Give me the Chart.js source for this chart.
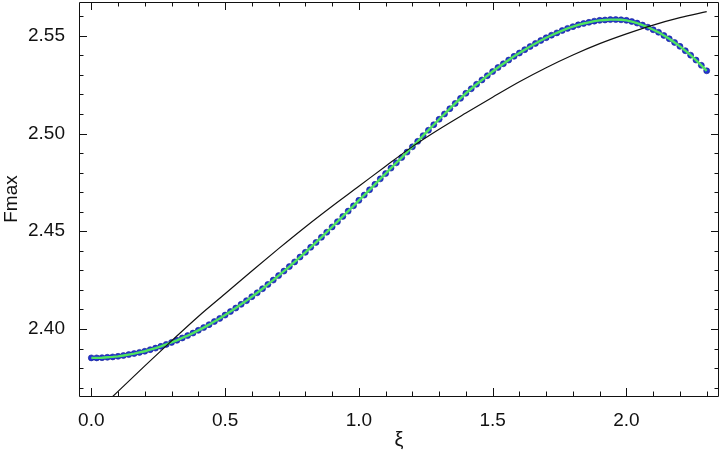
<!DOCTYPE html>
<html>
<head>
<meta charset="utf-8">
<script src="https://cdn.jsdelivr.net/npm/chart.js@4.4.1/dist/chart.umd.min.js"></script>
<style>
    html, body { margin: 0; padding: 0; background: #fff; }
    #wrap { width: 720px; height: 459px; }
</style>
</head>
<body>
<div id="wrap"><canvas id="fmaxChart"></canvas></div>
<script>
/* ================= DATA ================= */

const xiPoints = [
    0.00, 0.02, 0.04, 0.06, 0.08, 0.10, 0.12, 0.14, 0.16, 0.18,
    0.20, 0.22, 0.24, 0.26, 0.28, 0.30, 0.32, 0.34, 0.36, 0.38,
    0.40, 0.42, 0.44, 0.46, 0.48, 0.50, 0.52, 0.54, 0.56, 0.58,
    0.60, 0.62, 0.64, 0.66, 0.68, 0.70, 0.72, 0.74, 0.76, 0.78,
    0.80, 0.82, 0.84, 0.86, 0.88, 0.90, 0.92, 0.94, 0.96, 0.98,
    1.00, 1.02, 1.04, 1.06, 1.08, 1.10, 1.12, 1.14, 1.16, 1.18,
    1.20, 1.22, 1.24, 1.26, 1.28, 1.30, 1.32, 1.34, 1.36, 1.38,
    1.40, 1.42, 1.44, 1.46, 1.48, 1.50, 1.52, 1.54, 1.56, 1.58,
    1.60, 1.62, 1.64, 1.66, 1.68, 1.70, 1.72, 1.74, 1.76, 1.78,
    1.80, 1.82, 1.84, 1.86, 1.88, 1.90, 1.92, 1.94, 1.96, 1.98,
    2.00, 2.02, 2.04, 2.06, 2.08, 2.10, 2.12, 2.14, 2.16, 2.18,
    2.20, 2.22, 2.24, 2.26, 2.28, 2.30
];

const fmaxPoints = [
    2.3852, 2.3852, 2.3853, 2.3855, 2.3857, 2.3860, 2.3864, 2.3869, 2.3874, 2.3880,
    2.3886, 2.3894, 2.3902, 2.3911, 2.3921, 2.3931, 2.3942, 2.3954, 2.3966, 2.3979,
    2.3993, 2.4007, 2.4022, 2.4038, 2.4054, 2.4071, 2.4089, 2.4107, 2.4126, 2.4145,
    2.4165, 2.4185, 2.4206, 2.4228, 2.4250, 2.4273, 2.4296, 2.4319, 2.4343, 2.4368,
    2.4392, 2.4418, 2.4443, 2.4469, 2.4495, 2.4522, 2.4549, 2.4576, 2.4603, 2.4630,
    2.4658, 2.4685, 2.4712, 2.4740, 2.4768, 2.4795, 2.4823, 2.4850, 2.4877, 2.4905,
    2.4932, 2.4960, 2.4989, 2.5017, 2.5045, 2.5073, 2.5100, 2.5127, 2.5154, 2.5180,
    2.5206, 2.5229, 2.5252, 2.5274, 2.5296, 2.5317, 2.5338, 2.5357, 2.5376, 2.5395,
    2.5412, 2.5429, 2.5445, 2.5461, 2.5476, 2.5490, 2.5503, 2.5515, 2.5527, 2.5538,
    2.5547, 2.5556, 2.5563, 2.5569, 2.5575, 2.5579, 2.5581, 2.5583, 2.5583, 2.5582,
    2.5579, 2.5573, 2.5565, 2.5555, 2.5544, 2.5531, 2.5518, 2.5502, 2.5485, 2.5466,
    2.5446, 2.5424, 2.5401, 2.5376, 2.5349, 2.5321
];

// smooth fit curve (black)
const fitXi = [
    0.0, 0.1, 0.2, 0.3, 0.4, 0.5, 0.6, 0.7, 0.8, 0.9, 1.0, 1.1,
    1.2, 1.3, 1.4, 1.5, 1.6, 1.7, 1.8, 1.9, 2.0, 2.1, 2.2, 2.3
];
const fitFmax = [
    2.3549, 2.3681, 2.3811, 2.3939, 2.4064, 2.4180, 2.4297, 2.4411, 2.4522, 2.4628, 2.4730, 2.4833,
    2.4933, 2.5022, 2.5105, 2.5186, 2.5265, 2.5337, 2.5402, 2.5460, 2.5510, 2.5555, 2.5593, 2.5624
];

const xMajorTicks = [0.0, 0.5, 1.0, 1.5, 2.0];
const yMajorTicks = [2.40, 2.45, 2.50, 2.55];

/* ================= HELPERS ================= */

function toPoints(xs, ys) {
    return xs.map((x, i) => ({ x, y: ys[i] }));
}

function noPad(s) {
    s.paddingTop = 0;
    s.paddingBottom = 0;
    s.paddingLeft = 0;
    s.paddingRight = 0;
}

const FONT = "'Liberation Sans', Arial, sans-serif";

// Mathematica style frame with inward ticks on every side
const frameTicks = {
    id: "frameTicks",
    afterDraw(chart) {
        const { ctx, chartArea: a, scales: { x, y } } = chart;
        ctx.save();
        ctx.strokeStyle = "#111";
        ctx.lineWidth = 1;

        ctx.beginPath();
        ctx.moveTo(a.left + 0.5, a.top + 0.5);
        ctx.lineTo(a.right - 0.5, a.top + 0.5);
        ctx.lineTo(a.right - 0.5, a.bottom + 0.5);
        ctx.lineTo(a.left + 0.5, a.bottom + 0.5);
        ctx.closePath();

        for (let i = 0; i <= 23; i++) {
            const px = Math.round(x.getPixelForValue(i / 10)) + 0.5;
            const len = i % 5 === 0 ? 8 : 4.5;
            ctx.moveTo(px, a.bottom);
            ctx.lineTo(px, a.bottom - len);
            ctx.moveTo(px, a.top);
            ctx.lineTo(px, a.top + len);
        }
        for (let i = 237; i <= 256; i++) {
            const py = Math.round(y.getPixelForValue(i / 100)) + 0.5;
            const len = i % 5 === 0 ? 8 : 4.5;
            ctx.moveTo(a.left, py);
            ctx.lineTo(a.left + len, py);
            ctx.moveTo(a.right, py);
            ctx.lineTo(a.right - len, py);
        }
        ctx.stroke();
        ctx.restore();
    }
};

/* ================= CHART ================= */

function renderChart() {
    const ctx = document.getElementById("fmaxChart");

    new Chart(ctx, {
        type: "scatter",
        data: {
            datasets: [
                {
                    label: "fit",
                    data: toPoints(fitXi, fitFmax),
                    showLine: true,
                    borderColor: "#111",
                    borderWidth: 1.2,
                    pointRadius: 0,
                    cubicInterpolationMode: "monotone",
                    order: 0
                },
                {
                    label: "line",
                    data: toPoints(xiPoints, fmaxPoints),
                    showLine: true,
                    borderColor: "#4fe35f",
                    borderWidth: 2.4,
                    pointRadius: 0,
                    order: 1
                },
                {
                    label: "Fmax",
                    data: toPoints(xiPoints, fmaxPoints),
                    showLine: false,
                    backgroundColor: "#2233d4",
                    borderColor: "#14208f",
                    borderWidth: 0.6,
                    pointRadius: 3,
                    order: 2
                }
            ]
        },
        options: {
            responsive: true,
            maintainAspectRatio: false,
            animation: false,
            layout: {
                autoPadding: false,
                padding: { top: 2, right: 1, left: 0, bottom: 0 }
            },
            plugins: {
                legend: { display: false },
                tooltip: { enabled: false }
            },
            scales: {
                x: {
                    type: "linear",
                    min: -0.046,
                    max: 2.346,
                    grid: { display: false },
                    border: { display: false },
                    afterFit: s => { s.height = 63; noPad(s); },
                    afterBuildTicks: s => { s.ticks = xMajorTicks.map(v => ({ value: v })); },
                    ticks: {
                        padding: 5,
                        color: "#111",
                        font: { family: FONT, size: 19 },
                        callback: v => Number(v).toFixed(1)
                    },
                    title: {
                        display: true,
                        text: "ξ",
                        color: "#111",
                        font: { family: FONT, size: 20 },
                        padding: { top: 0, bottom: 7 }
                    }
                },
                y: {
                    type: "linear",
                    min: 2.3657,
                    max: 2.5673,
                    grid: { display: false },
                    border: { display: false },
                    afterFit: s => { s.width = 79; noPad(s); },
                    afterBuildTicks: s => { s.ticks = yMajorTicks.map(v => ({ value: v })); },
                    ticks: {
                        padding: 6,
                        color: "#111",
                        font: { family: FONT, size: 19 },
                        callback: v => Number(v).toFixed(2)
                    },
                    title: {
                        display: true,
                        text: "Fmax",
                        color: "#111",
                        font: { family: FONT, size: 19 },
                        padding: { top: 0, bottom: 0 }
                    }
                }
            }
        },
        plugins: [frameTicks]
    });
}

document.addEventListener("DOMContentLoaded", renderChart);
</script>
</body>
</html>
